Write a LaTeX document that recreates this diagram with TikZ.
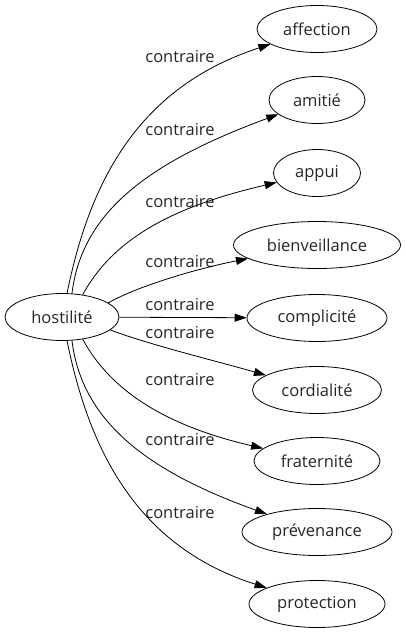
\documentclass[tikz,border=0pt]{standalone}
\usepackage{fontspec}
\setmainfont{Open Sans}
\usetikzlibrary{arrows.meta,shapes.geometric}
\begin{document}
\begin{tikzpicture}[x=1pt,y=-1pt,
 term/.style={draw, ellipse, line width=0.8pt, minimum height=47pt, inner sep=0pt, font=\fontsize{16.5}{20}\selectfont, text=black!85},
 rel/.style={font=\fontsize{16.5}{20}\selectfont, inner sep=0pt, text=black!85},
 conn/.style={draw, line width=0.8pt, -{Triangle[length=12pt,width=8pt]}}]
\useasboundingbox (0,0) rectangle (406,635);
\node[term, minimum width=114pt] (h) at (62,317) {hostilité};
\node[term, minimum width=120pt] (t1) at (317,29) {affection};
\node[term, minimum width=96pt] (t2) at (317,100) {amitié};
\node[term, minimum width=87pt] (t3) at (317,173) {appui};
\node[term, minimum width=167pt] (t4) at (317,245) {bienveillance};
\node[term, minimum width=140pt] (t5) at (317,318) {complicité};
\node[term, minimum width=129pt] (t6) at (317,390) {cordialité};
\node[term, minimum width=126pt] (t7) at (317,461) {fraternité};
\node[term, minimum width=150pt] (t8) at (317,532) {prévenance};
\node[term, minimum width=136pt] (t9) at (317,604) {protection};
\node[rel] (l1) at (180,57) {contraire};
\node[rel] (l2) at (180,130) {contraire};
\node[rel] (l3) at (180,202) {contraire};
\node[rel] (l4) at (180,262) {contraire};
\node[rel] (l5) at (180,305) {contraire};
\node[rel] (l6) at (180,333) {contraire};
\node[rel] (l7) at (180,380) {contraire};
\node[rel] (l8) at (180,440) {contraire};
\node[rel] (l9) at (180,513) {contraire};
\draw[conn] (h.78) .. controls (90,180) and (139,87) .. (t1);
\draw[conn] (h.67) .. controls (82,210) and (152,161) .. (t2);
\draw[conn] (h.47) .. controls (115,235) and (180,205) .. (t3);
\draw[conn] (h.17) .. controls (140,285) and (200,268) .. (t4);
\draw[conn] (h) -- (t5);
\draw[conn] (h.-15) .. controls (150,345) and (220,362) .. (t6);
\draw[conn] (h.-47) .. controls (115,399) and (180,429) .. (t7);
\draw[conn] (h.-67) .. controls (82,424) and (152,473) .. (t8);
\draw[conn] (h.-78) .. controls (90,454) and (139,547) .. (t9);
\end{tikzpicture}
\end{document}
